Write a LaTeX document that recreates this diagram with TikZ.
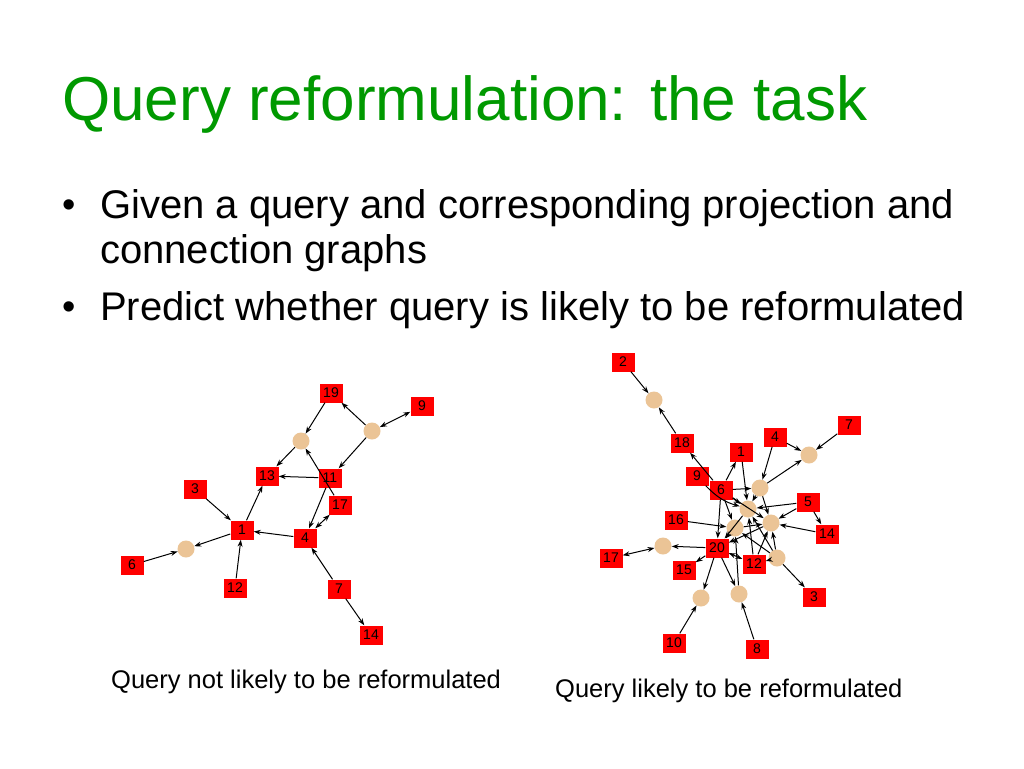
\documentclass[tikz,border=0pt]{standalone}
\usepackage{fontspec}
\setmainfont{Liberation Sans}
\usetikzlibrary{arrows.meta}
\definecolor{titlegreen}{RGB}{0,153,0}
\definecolor{peach}{RGB}{235,196,150}
\begin{document}
\begin{tikzpicture}[x=1pt,y=-1pt,
  sq/.style={fill=red, minimum width=23pt, minimum height=19pt, inner sep=0pt, font=\fontsize{14}{14}\selectfont},
  cir/.style={circle, fill=peach, minimum size=17pt, inner sep=0pt},
  ed/.style={draw=black, line width=1pt, -{Stealth[length=7pt,width=5pt]}},
  bi/.style={draw=black, line width=1pt, {Stealth[length=7pt,width=5pt]}-{Stealth[length=7pt,width=5pt]}},
  txt/.style={anchor=base west, inner sep=0pt},
  bul/.style={anchor=base west, inner sep=0pt, font=\fontsize{38}{40}\selectfont},
]
\path[fill=white] (0,0) rectangle (1024,768);
\useasboundingbox (0,0) rectangle (1024,768);

% title and bullets
\node[txt, text=titlegreen, font=\fontsize{62}{70}\selectfont] (title) at (62,120) {Query reformulation: the task};
\node[bul] (b1) at (62,217) {•};
\node[txt, font=\fontsize{40}{46}\selectfont] (t1) at (100,218) {Given a query and corresponding projection and};
\node[txt, font=\fontsize{40}{46}\selectfont] (t2) at (100,263) {connection graphs};
\node[bul] (b2) at (62,319) {•};
\node[txt, font=\fontsize{40}{46}\selectfont] (t3) at (100,320) {Predict whether query is likely to be reformulated};

% captions
\node[txt, font=\fontsize{25.5}{30}\selectfont] (c1) at (111,688) {Query not likely to be reformulated};
\node[txt, font=\fontsize{25.5}{30}\selectfont] (c2) at (555,697) {Query likely to be reformulated};

% ---------- left graph ----------
\node[cir] (lA) at (372,431) {};
\node[cir] (lB) at (301,441) {};
\node[cir] (lC) at (186,549) {};
\node[sq] (l19) at (331,393) {19};
\node[sq] (l9) at (422,406) {9};
\node[sq] (l13) at (267,476) {13};
\node[sq] (l11) at (330,478) {11};
\node[sq] (l3) at (195,489) {3};
\node[sq] (l17) at (340,505) {17};
\node[sq] (l1) at (242,530) {1};
\node[sq] (l4) at (305,538) {4};
\node[sq] (l6) at (132,565) {6};
\node[sq] (l12) at (235,588) {12};
\node[sq] (l7) at (339,589) {7};
\node[sq] (l14) at (371,635) {14};

\draw[ed] (lA) -- (l19);
\draw[bi] (lA) -- (l9);
\draw[ed] (lA) -- (l11);
\draw[ed] (l19) -- (lB);
\draw[ed] (lB) -- (l13);
\draw[ed] (l11) -- (l13);
\draw[ed] (l17) -- (lB);
\draw[ed] (l11) -- (l4);
\draw[bi] (l4) -- (l17);
\draw[ed] (l3) -- (l1);
\draw[ed] (l1) -- (l13);
\draw[ed] (l4) -- (l1);
\draw[ed] (l1) -- (lC);
\draw[ed] (l6) -- (lC);
\draw[ed] (l12) -- (l1);
\draw[ed] (l7) -- (l4);
\draw[ed] (l7) -- (l14);

% ---------- right graph ----------
\node[cir] (rP1) at (654,400) {};
\node[cir] (rP2) at (809,455) {};
\node[cir] (rP3) at (760,488) {};
\node[cir] (rP4) at (748,509) {};
\node[cir] (rP5) at (771,523) {};
\node[cir] (rP6) at (735,528) {};
\node[cir] (rP7) at (663,546) {};
\node[cir] (rP8) at (777,558) {};
\node[cir] (rP9) at (701,598) {};
\node[cir] (rP10) at (739,594) {};
\node[sq] (r2) at (623,362) {2};
\node[sq] (r7) at (849,425) {7};
\node[sq] (r4) at (775,437) {4};
\node[sq] (r18) at (682,443) {18};
\node[sq] (r1) at (741,452) {1};
\node[sq] (r9) at (697,476) {9};
\node[sq] (r6) at (721,490) {6};
\node[sq] (r5) at (808,502) {5};
\node[sq] (r16) at (676,520) {16};
\node[sq] (r14) at (827,534) {14};
\node[sq] (r17) at (611,558) {17};
\node[sq] (r20) at (717,548) {20};
\node[sq] (r12) at (754,564) {12};
\node[sq] (r15) at (684,570) {15};
\node[sq] (r3) at (814,597) {3};
\node[sq] (r10) at (674,643) {10};
\node[sq] (r8) at (757,649) {8};

\draw[ed] (r2) -- (rP1);
\draw[ed] (r18) -- (rP1);
\draw[ed] (r6) -- (r18);
\draw[ed] (r6) -- (r1);
\draw[ed] (r4) -- (rP2);
\draw[ed] (r7) -- (rP2);
\draw[ed] (rP3) -- (rP2);
\draw[ed] (r4) -- (rP3);
\draw[ed] (r6) -- (rP3);
\draw[ed] (r1) -- (rP4);
\draw[ed] (r9) to[bend right=15] (rP4);
\draw[ed] (r6) -- (rP4);
\draw[ed] (r6) -- (rP5);
\draw[ed] (r6) -- (rP6);
\draw[ed] (r6) -- (r20);
\draw[ed] (rP3) -- (rP4);
\draw[ed] (rP3) -- (rP5);
\draw[ed] (r5) -- (rP4);
\draw[ed] (r5) -- (rP5);
\draw[ed] (r5) -- (r14);
\draw[ed] (r14) -- (rP5);
\draw[ed] (r16) -- (rP6);
\draw[ed] (rP4) -- (r20);
\draw[ed] (rP6) -- (r20);
\draw[ed] (rP5) -- (r20);
\draw[ed] (rP6) -- (rP5);
\draw[ed] (r12) -- (rP4);
\draw[ed] (r12) -- (rP5);
\draw[bi] (r20) -- (r12);
\draw[ed] (rP8) -- (r12);
\draw[ed] (rP8) -- (rP5);
\draw[ed] (rP8) -- (rP4);
\draw[ed] (rP8) -- (rP6);
\draw[ed] (rP8) -- (r3);
\draw[ed] (r20) -- (rP7);
\draw[bi] (r17) -- (rP7);
\draw[ed] (r20) -- (r15);
\draw[ed] (r20) -- (rP9);
\draw[ed] (r10) -- (rP9);
\draw[ed] (r20) -- (rP10);
\draw[ed] (r8) -- (rP10);
\draw[ed] (rP10) -- (rP6);
\end{tikzpicture}
\end{document}
